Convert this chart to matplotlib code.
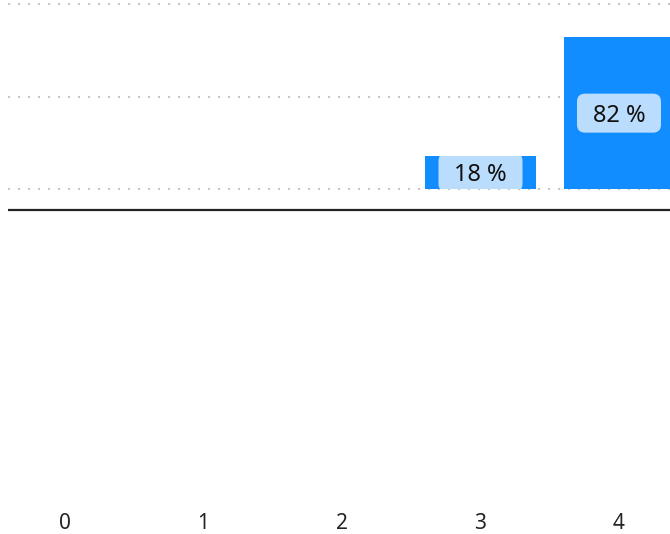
import matplotlib
matplotlib.use('Agg')
import matplotlib.pyplot as plt
from matplotlib.patches import FancyBboxPatch
from matplotlib.transforms import ScaledTranslation

# data
categories = [0, 1, 2, 3, 4]
shares = [0, 0, 0, 18, 82]
grid_values = [0, 50, 100]

bar_color = '#118DFF'
box_color = '#BBDDFD'
text_color = '#252423'

plt.rcParams['font.family'] = ['Noto Sans', 'DejaVu Sans']

W, H = 670, 534
fig = plt.figure(figsize=(W / 100, H / 100), dpi=100)

# axes spans x 8..670 px, y 0..505 px (from top)
ax = fig.add_axes([8 / W, (H - 505) / H, (W - 8) / W, 505 / H])

px_per_unit = 1.85
zero_y = 189
ax.set_ylim((zero_y - 505) / px_per_unit, zero_y / px_per_unit)
step = 138.5
ax.set_xlim(-(65 - 8) / step, (670 - 65) / step)

ax.set_yticks(grid_values)
ax.yaxis.grid(True, color='#C8C8C8', linestyle=(0, (1, 3.8)), linewidth=1.5)
ax.set_axisbelow(True)
ax.tick_params(axis='y', left=False, labelleft=False)
ax.tick_params(axis='x', length=0, pad=5.5, labelsize=15, labelcolor=text_color)
ax.set_xticks(categories)
ax.set_xticklabels([str(c) for c in categories])
for s in ax.spines.values():
    s.set_visible(False)

bars = ax.bar(categories, shares, width=0.8, color=bar_color, zorder=2)

# black separator line under the plot
ax.axhline((zero_y - 210) / px_per_unit, color='#252423', linewidth=1.6, zorder=3)

# data labels: rounded light box (size in inches) centred in each bar
box_w, box_h = 0.84, 0.39
for b, v in zip(bars, shares):
    if v <= 0:
        continue
    cx = b.get_x() + b.get_width() / 2
    cy = v / 2
    tr = fig.dpi_scale_trans + ScaledTranslation(cx, cy, ax.transData)
    box = FancyBboxPatch((-box_w / 2, -box_h / 2), box_w, box_h,
                         boxstyle='round,pad=0,rounding_size=0.08',
                         transform=tr, fc=box_color, ec='none', zorder=3)
    ax.add_patch(box)
    box.set_clip_path(b)
    ax.text(cx, cy, f'{v} %', ha='center', va='center_baseline',
            fontsize=17, color='#111111', zorder=4)

fig.savefig('out.png', dpi=100)
